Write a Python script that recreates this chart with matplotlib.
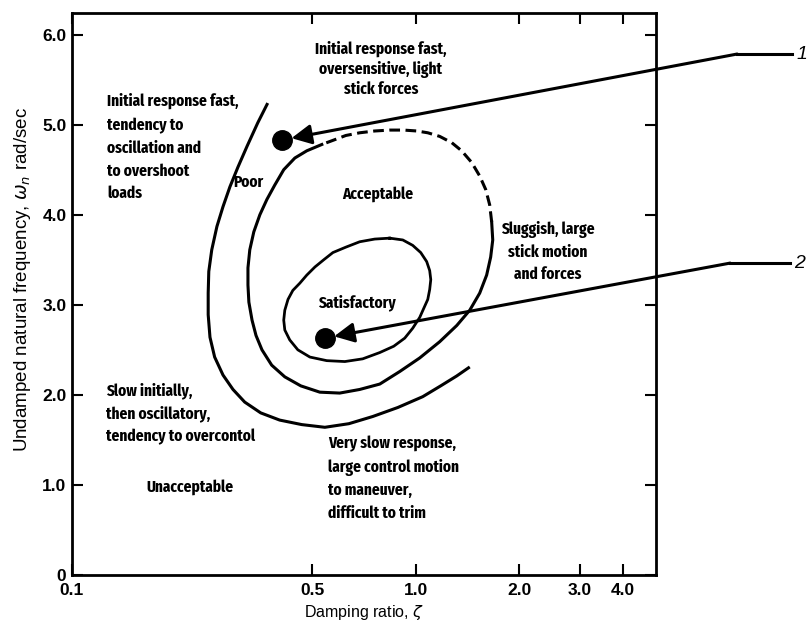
import os
import matplotlib
matplotlib.use("Agg")
import matplotlib.pyplot as plt
from matplotlib import font_manager
from matplotlib.font_manager import FontProperties

# boundary curves (damping ratio, natural frequency)
poor_x = [0.371, 0.347, 0.323, 0.304, 0.288, 0.275, 0.264, 0.255, 0.250, 0.249, 0.249, 0.252, 0.260, 0.275,
          0.294, 0.318, 0.354, 0.402, 0.466, 0.544, 0.639, 0.750, 0.887, 1.048, 1.182, 1.316, 1.436]
poor_y = [5.24, 5.02, 4.76, 4.53, 4.31, 4.09, 3.87, 3.61, 3.37, 3.13, 2.89, 2.64, 2.42, 2.22,
          2.06, 1.92, 1.80, 1.72, 1.67, 1.64, 1.68, 1.76, 1.86, 1.98, 2.10, 2.21, 2.31]

accept_x = [0.533, 0.482, 0.445, 0.413, 0.389, 0.369, 0.352, 0.338, 0.329, 0.325, 0.325, 0.327, 0.334, 0.343,
            0.357, 0.381, 0.416, 0.463, 0.526, 0.601, 0.687, 0.786, 0.899, 1.027, 1.174, 1.316, 1.436, 1.535,
            1.608, 1.652, 1.675, 1.663]
accept_y = [4.78, 4.71, 4.63, 4.50, 4.33, 4.17, 4.00, 3.81, 3.61, 3.41, 3.22, 3.03, 2.83, 2.66,
            2.50, 2.33, 2.20, 2.10, 2.03, 2.02, 2.06, 2.12, 2.26, 2.41, 2.59, 2.77, 2.94, 3.13,
            3.33, 3.53, 3.72, 3.92]
accept_dash_x = [1.663, 1.641, 1.598, 1.535, 1.455, 1.360, 1.273, 1.174, 1.084, 1.007, 0.923, 0.840,
                 0.760, 0.687, 0.626, 0.578, 0.533]
accept_dash_y = [3.92, 4.11, 4.28, 4.43, 4.58, 4.71, 4.80, 4.87, 4.91, 4.93, 4.94, 4.94,
                 4.93, 4.91, 4.88, 4.83, 4.78]

satis_x = [0.840, 0.917, 0.980, 1.034, 1.076, 1.098, 1.106, 1.098, 1.084, 1.055, 1.027, 0.980, 0.929, 0.863,
           0.786, 0.701, 0.622, 0.551, 0.492, 0.454, 0.430, 0.416, 0.413, 0.416, 0.425, 0.439, 0.460, 0.482,
           0.509, 0.540, 0.574, 0.626, 0.687, 0.760, 0.840]
satis_y = [3.74, 3.72, 3.66, 3.58, 3.48, 3.38, 3.28, 3.17, 3.06, 2.96, 2.86, 2.74, 2.63, 2.54,
           2.47, 2.40, 2.37, 2.38, 2.42, 2.50, 2.61, 2.72, 2.83, 2.94, 3.06, 3.16, 3.24, 3.33,
           3.42, 3.50, 3.58, 3.64, 3.70, 3.73, 3.74]

# the two marked aircraft
pts_x = [0.408, 0.543]
pts_y = [4.83, 2.63]
pts_lbl = ["1", "2"]

xticks = [0.1, 0.5, 1.0, 2.0, 3.0, 4.0]
xtick_lbl = ["0.1", "0.5", "1.0", "2.0", "3.0", "4.0"]
yticks = [0, 1, 2, 3, 4, 5, 6]
ytick_lbl = ["0", "1.0", "2.0", "3.0", "4.0", "5.0", "6.0"]


def pick_condensed():
    # narrow sans face, close to extra-condensed and semibold/bold
    wmap = {"normal": 400, "regular": 400, "book": 400, "medium": 500, "semibold": 600,
            "demibold": 600, "bold": 700, "heavy": 800, "black": 900, "light": 300}
    best = None
    for f in font_manager.fontManager.ttflist:
        s = (f.name + os.path.basename(f.fname)).lower().replace(" ", "").replace("-", "").replace("_", "")
        if "mono" in s or "serif" in s or "cjk" in s or "italic" in s or "oblique" in s:
            continue
        if "ultracondensed" in s:
            st = 50
        elif "extracondensed" in s:
            st = 62.5
        elif "semicondensed" in s:
            st = 87.5
        elif "condensed" in s:
            st = 75
        elif "narrow" in s:
            st = 82
        else:
            continue
        w = f.weight if isinstance(f.weight, int) else wmap.get(str(f.weight).lower(), 400)
        score = abs(st - 64) * 4 + abs(w - 650) / 2
        if best is None or score < best[0]:
            best = (score, f.fname, st)
    return best


names = {f.name for f in font_manager.fontManager.ttflist}
plain = "Liberation Sans" if "Liberation Sans" in names else "DejaVu Sans"
cond = pick_condensed()
if cond:
    # keep the line width close to the original whatever the face found
    tsize = 12.0 * min(1.0, 64 / cond[2] * 1.05)
    note_fp = FontProperties(fname=cond[1], size=tsize)
else:
    tsize = 10.5
    note_fp = FontProperties(family="Roboto" if "Roboto" in names else "DejaVu Sans", weight="bold", size=tsize)
ls_body = 1.45 * 22 / 20 * 11.5 / tsize
ls_top = 1.3 * 19 / 18.5 * 11.5 / tsize

fig = plt.figure(figsize=(8.12, 6.28), dpi=100)
ax = fig.add_axes([72 / 812, 53 / 628, 584 / 812, 562 / 628])
ax.set_xscale("log")
ax.set_xlim(0.1, 5.0)
ax.set_ylim(0, 6.24)

lw = 2.2
ax.plot(poor_x, poor_y, color="k", lw=lw, solid_capstyle="butt")
ax.plot(accept_x, accept_y, color="k", lw=lw)
dash, = ax.plot(accept_dash_x, accept_dash_y, color="k", lw=lw)
dash.set_dashes([3.5, 1.8])
ax.plot(satis_x, satis_y, color="k", lw=lw * 0.9)
ax.plot(pts_x, pts_y, "o", color="k", markersize=14)

# arrows from the labels at the right
kinks = [(1.139, 0.927), (1.127, 0.555)]
ends = [1.233, 1.229]
for px, py, lbl, (kx, ky), ex in zip(pts_x, pts_y, pts_lbl, kinks, ends):
    ax.annotate("", xy=(px, py), xycoords="data", xytext=(kx, ky), textcoords="axes fraction",
                arrowprops=dict(arrowstyle="-|>,head_length=1.0,head_width=0.5", mutation_scale=12,
                                lw=lw, color="k", shrinkA=0, shrinkB=7),
                annotation_clip=False)
    ax.plot([kx, ex], [ky, ky], color="k", lw=lw, transform=ax.transAxes, clip_on=False)
    ax.text(ex + 0.008, ky, lbl, transform=ax.transAxes, ha="left", va="center",
            fontsize=14, style="italic", family=plain, clip_on=False)


def note(x, y, s, ha="center", ls=ls_body):
    ax.text(x, y, s, ha=ha, va="center", fontproperties=note_fp, linespacing=ls)


note(0.791, 5.62, "Initial response fast,\noversensitive, light\nstick forces", ls=ls_top)
note(0.1264, 5.26, "Initial response fast,", ha="left")
note(0.1264, 4.61, "tendency to\noscillation and\nto overshoot\nloads", ha="left")
note(0.325, 4.36, "Poor")
note(0.776, 4.23, "Acceptable")
note(0.674, 3.02, "Satisfactory")
note(2.42, 3.59, "Sluggish, large\nstick motion\nand forces")
note(0.1255, 1.79, "Slow initially,\nthen oscillatory,\ntendency to overcontol", ha="left")
note(0.2203, 0.98, "Unacceptable")
note(0.5548, 1.07, "Very slow response,\nlarge control motion\nto maneuver,\ndifficult to trim", ha="left")

ax.set_xticks(xticks)
ax.set_xticklabels(xtick_lbl)
ax.xaxis.set_minor_locator(matplotlib.ticker.NullLocator())
ax.set_yticks(yticks)
ax.set_yticklabels(ytick_lbl)
ax.tick_params(direction="in", top=True, right=True, length=8, width=1.5)
ax.tick_params(axis="x", pad=6)
ax.tick_params(axis="y", pad=4)
for t in ax.get_xticklabels() + ax.get_yticklabels():
    t.set_family(plain)
    t.set_fontsize(12.5)
    t.set_fontweight("bold")
for s in ax.spines.values():
    s.set_linewidth(2)

ax.set_xlabel("Damping ratio, $\\zeta$", family=plain, fontsize=11.5)
ax.set_ylabel("Undamped natural frequency, $\\omega_n$ rad/sec", family=plain, fontsize=13.5)
ax.xaxis.set_label_coords(0.5, -0.05)
ax.yaxis.set_label_coords(-0.067, 0.525)

fig.savefig("out.png", dpi=100)
